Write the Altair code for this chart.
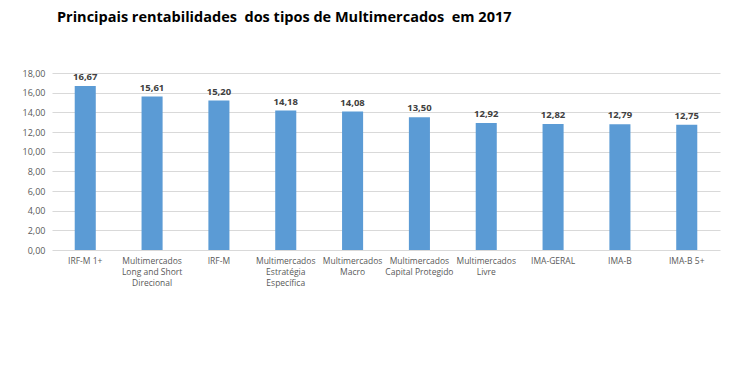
import altair as alt
import pandas as pd

categories = ["IRF-M 1+", "Multimercados|Long and Short|Direcional", "IRF-M",
              "Multimercados|Estratégia|Específica", "Multimercados|Macro",
              "Multimercados|Capital Protegido", "Multimercados|Livre",
              "IMA-GERAL", "IMA-B", "IMA-B 5+"]
values = [16.67, 15.61, 15.20, 14.18, 14.08, 13.50, 12.92, 12.82, 12.79, 12.75]
y_ticks = [0, 2, 4, 6, 8, 10, 12, 14, 16, 18]

df = pd.DataFrame({"cat": categories, "val": values})
df["lbl"] = [f"{v:.2f}".replace(".", ",") for v in values]

x = alt.X("cat:N", sort=categories, title=None,
          scale=alt.Scale(paddingInner=0.685, paddingOuter=0.34),
          axis=alt.Axis(labelAngle=0, labelExpr="split(datum.label, '|')",
                        labelFont="Open Sans", labelFontSize=8.5, labelColor="#595959",
                        labelPadding=6, labelLineHeight=11, ticks=False, domain=False,
                        grid=False, labelBaseline="top"))
y = alt.Y("val:Q", title=None,
          scale=alt.Scale(domain=[0, 18], nice=False),
          axis=alt.Axis(values=y_ticks, labelOverlap=False,
                        labelExpr="replace(format(datum.value, '.2f'), '.', ',')",
                        labelFont="Open Sans", labelFontSize=9, labelColor="#595959",
                        labelPadding=7, ticks=False, domain=False,
                        gridColor="#d9d9d9", gridWidth=1))

bars = alt.Chart(df).mark_bar(color="#5b9bd5").encode(x=x, y=y)
text = alt.Chart(df).mark_text(dy=-9, font="Open Sans", fontSize=9.5,
                               fontWeight="bold", color="#404040").encode(
    x=x, y=y, text="lbl:N")

chart = (bars + text).properties(
    width=668, height=177,
    autosize=alt.AutoSizeParams(type="none"),
    padding={"left": 44, "top": 65, "right": 22, "bottom": 100},
    title=alt.TitleParams("Principais rentabilidades\u00a0 dos tipos de Multimercados\u00a0 em 2017",
                          anchor="start", frame="group", dx=5, offset=44,
                          font="Open Sans", fontSize=14.5, fontWeight="bold", color="#000000"),
).configure_view(stroke=None, strokeWidth=0)

chart.save("out.html", embed_options={"renderer": "svg", "actions": False})
